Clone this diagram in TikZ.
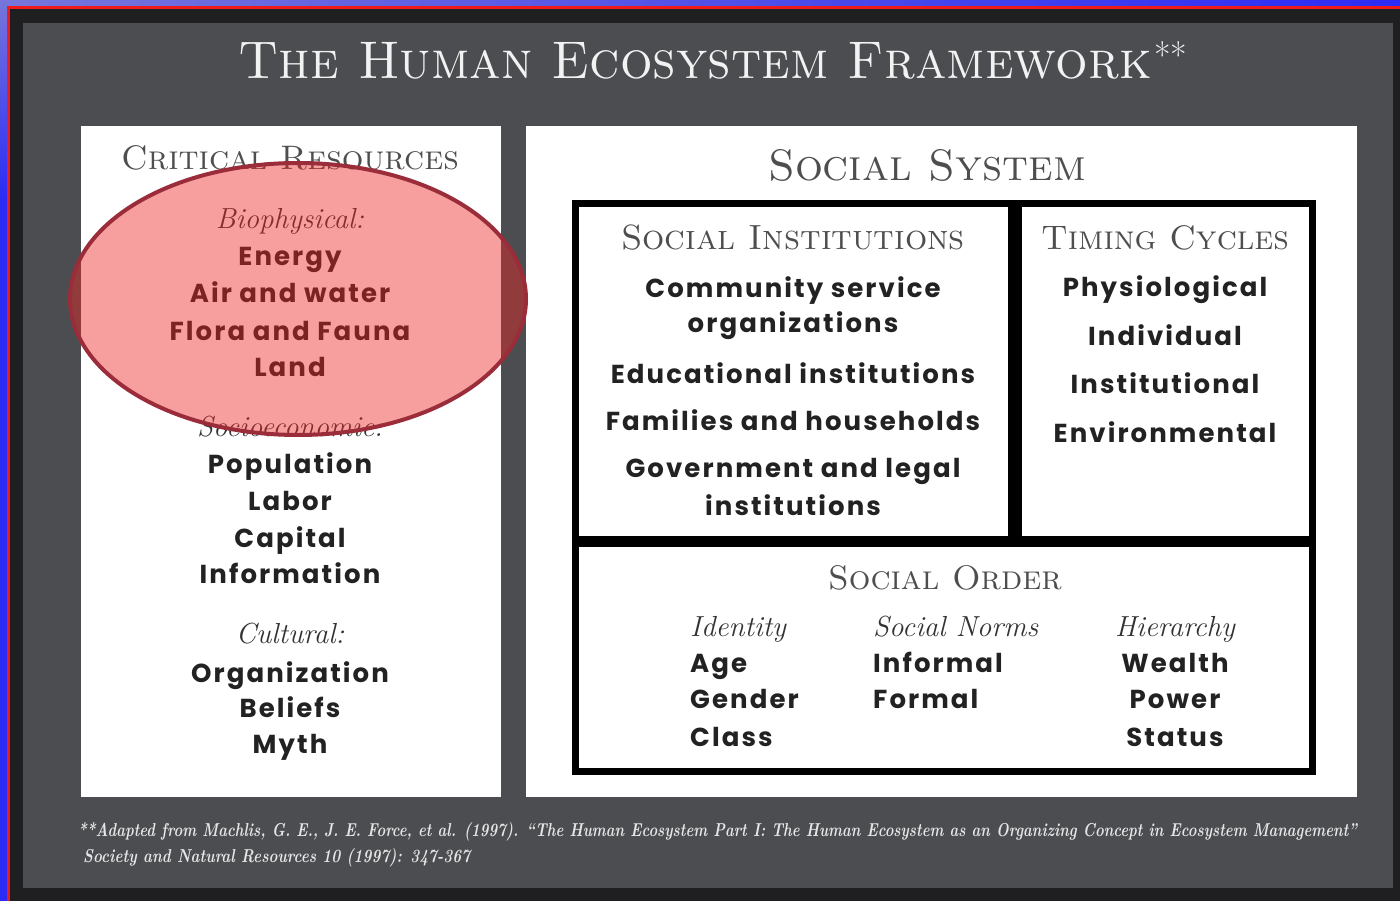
\documentclass[tikz,border=0pt]{standalone}
\usepackage{fontspec}
\newfontfamily\futfont{Poppins}[LetterSpace=8]
\usetikzlibrary{shapes.geometric}
\definecolor{bgblue}{HTML}{2B2BF5}
\definecolor{bgpurple}{HTML}{7676DC}
\definecolor{framered}{HTML}{F01A1A}
\definecolor{framedark}{HTML}{1F1F21}
\definecolor{panelgray}{HTML}{4B4D50}
\definecolor{headgray}{HTML}{4E4E4E}
\definecolor{ink}{HTML}{222222}
\definecolor{catgray}{HTML}{333333}
\definecolor{ovfill}{HTML}{EE2626}
\definecolor{ovline}{HTML}{9B2D3A}
\definecolor{foot}{HTML}{E6E6E6}
\definecolor{titlewhite}{HTML}{F2F2F2}
\tikzset{
  item/.style={font=\futfont\bfseries\fontsize{26}{30}\selectfont, text=ink, inner sep=0pt, anchor=base},
  cat/.style={font=\itshape\fontsize{29}{32}\selectfont, text=catgray, inner sep=0pt, anchor=base},
  head/.style={font=\scshape\fontsize{34}{38}\selectfont, text=headgray, inner sep=0pt, anchor=base},
  boxline/.style={draw=black, line width=7pt},
}
\begin{document}
\begin{tikzpicture}[x=1pt,y=-1pt]
\useasboundingbox (0,0) rectangle (1400,901);
% background
\fill[bgblue] (0,0) rectangle (1400,901);
\shade[left color=bgpurple, right color=bgblue] (0,0) rectangle (1400,7);
\shade[top color=bgpurple, bottom color=bgblue] (0,0) rectangle (8,200);
\fill[framered] (7,6) rectangle (1400,901);
\fill[framedark] (10,9) rectangle (1400,901);
\fill[panelgray] (23,23) rectangle (1393,888);
% white boxes
\fill[white] (81,126) rectangle (501,797);
\fill[white] (526,126) rectangle (1357,797);
% title
\node[font=\scshape\fontsize{53}{56}\selectfont, text=titlewhite, anchor=base, inner sep=0pt] (title) at (695,79) {\scalebox{0.968}[1]{The Human Ecosystem Framework}};
\node[font=\fontsize{36}{40}\selectfont, text=titlewhite, anchor=base west, inner sep=0pt] (stars) at ([xshift=2pt,yshift=10pt]title.base east) {**};
% left column
\node[head] (crhead) at (290,170) {Critical Resources};
\node[cat] (bio) at (290,229) {Biophysical:};
\node[item] (energy) at (290,266) {Energy};
\node[item] (air) at (290,303) {Air and water};
\node[item] (flora) at (290,340) {Flora and Fauna};
\node[item] (land) at (290,376) {Land};
\node[cat] (socio) at (290,436) {Socioeconomic:};
\node[item] (pop) at (290,473) {Population};
\node[item] (labor) at (290,510) {Labor};
\node[item] (capital) at (290,547) {Capital};
\node[item] (info) at (290,583) {Information};
\node[cat] (cult) at (290,643) {Cultural:};
\node[item] (org) at (290,682) {Organization};
\node[item] (beliefs) at (290,717) {Beliefs};
\node[item] (myth) at (290,753) {Myth};
% ellipse overlay
\path[fill=ovfill, fill opacity=0.44, draw=ovline, line width=4pt] (298,299) ellipse [x radius=228, y radius=136];
% social system
\node[head, font=\scshape\fontsize{44}{48}\selectfont] (sshead) at (927,181) {Social System};
\draw[boxline] (575,204) rectangle (1011,539);
\draw[boxline] (1018,204) rectangle (1312,539);
\draw[boxline] (575,543) rectangle (1312,771);
% social institutions
\node[head, font=\scshape\fontsize{35}{38}\selectfont] (sihead) at (793,250) {Social Institutions};
\node[item] (comm) at (793,298) {Community service};
\node[item] (orgs) at (793,333) {organizations};
\node[item] (edu) at (793,383) {Educational institutions};
\node[item] (fam) at (793,430) {Families and households};
\node[item] (gov) at (793,477) {Government and legal};
\node[item] (inst) at (793,515) {institutions};
% timing cycles
\node[head] (tchead) at (1165,250) {Timing Cycles};
\node[item] (phys) at (1165,297) {Physiological};
\node[item] (indiv) at (1165,345) {Individual};
\node[item] (instl) at (1165,393) {Institutional};
\node[item] (env) at (1165,442) {Environmental};
% social order
\node[head] (sohead) at (945,589) {Social Order};
\node[cat, anchor=base west] (ident) at (690,636) {Identity};
\node[item, anchor=base west] (age) at (690,672) {Age};
\node[item, anchor=base west] (gender) at (690,708) {Gender};
\node[item, anchor=base west] (class) at (690,746) {Class};
\node[cat, anchor=base west] (norms) at (873,636) {Social Norms};
\node[item, anchor=base west] (informal) at (873,672) {Informal};
\node[item, anchor=base west] (formal) at (873,708) {Formal};
\node[cat] (hier) at (1175,636) {Hierarchy};
\node[item] (wealth) at (1175,672) {Wealth};
\node[item] (power) at (1175,708) {Power};
\node[item] (status) at (1175,746) {Status};
% footer
\node[anchor=base west, inner sep=0pt, text=foot] (foot1) at (78,836) {\resizebox{1279pt}{14pt}{\itshape\bfseries **Adapted from Machlis, G. E., J. E. Force, et al. (1997). ``The Human Ecosystem Part I: The Human Ecosystem as an Organizing Concept in Ecosystem Management''}};
\node[anchor=base west, inner sep=0pt, text=foot] (foot2) at (83,862) {\resizebox{387pt}{14pt}{\itshape\bfseries Society and Natural Resources 10 (1997): 347-367}};
\end{tikzpicture}
\end{document}
